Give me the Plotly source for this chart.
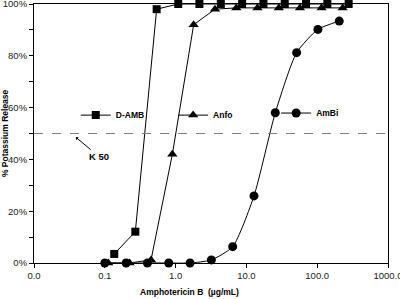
import plotly.graph_objects as go

# Data
damb_x = [0.136, 0.27, 0.54, 1.09, 2.17, 4.35, 8.7, 17.4, 34.8, 69.6, 139, 278]
damb_y = [3.5, 12.1, 98.0, 100, 100, 100, 100, 100, 100, 100, 100, 100]

anfo_x = [0.112, 0.224, 0.45, 0.9, 1.8, 3.6, 7.2, 14.3, 28.7, 57, 115, 229]
anfo_y = [0, 0, 1.2, 42, 92, 98, 98.5, 98.5, 98.5, 98.5, 98.5, 98.5]

ambi_x = [0.1, 0.2, 0.4, 0.8, 1.6, 3.2, 6.4, 12.8, 25.6, 51.2, 102.4, 204.8]
ambi_y = [0, 0, 0, 0, 0, 1.2, 6.3, 25.9, 58, 81.2, 90.2, 93.4]

x_tickvals = [0.01, 0.1, 1, 10, 100, 1000]
x_ticktext = ["0.0", "0.1", "1.0", "10.0", "100.0", "1000.0"]
y_tickvals = [0, 20, 40, 60, 80, 100]
y_ticktext = ["0%", "20%", "40%", "60%", "80%", "100%"]

FONT = "Liberation Sans Narrow, Arial Narrow, Liberation Sans, Arial, sans-serif"
BOLD = dict(family=FONT, size=8.5, color="black", weight="bold")

fig = go.Figure()
fig.add_trace(go.Scatter(x=damb_x, y=damb_y, name="D-AMB", mode="lines+markers",
                         line=dict(color="black", width=1),
                         marker=dict(symbol="square", size=8, color="black"),
                         cliponaxis=False, legend="legend"))
fig.add_trace(go.Scatter(x=anfo_x, y=anfo_y, name="Anfo", mode="lines+markers",
                         line=dict(color="black", width=1),
                         marker=dict(symbol="triangle-up", size=9, color="black"),
                         cliponaxis=False, legend="legend2"))
fig.add_trace(go.Scatter(x=ambi_x, y=ambi_y, name="AmBi", mode="lines+markers",
                         line=dict(color="black", width=1, shape="spline", smoothing=0.6),
                         marker=dict(symbol="circle", size=9, color="black"),
                         cliponaxis=False, legend="legend3"))

leg_common = dict(bgcolor="rgba(0,0,0,0)", borderwidth=0, font=BOLD,
                  xanchor="left", yanchor="middle", itemwidth=30)
fig.update_layout(
    legend=dict(x=0.118, y=0.571, **leg_common),
    legend2=dict(x=0.393, y=0.571, **leg_common),
    legend3=dict(x=0.684, y=0.579, **leg_common),
)

fig.add_shape(type="line", xref="paper", yref="y", x0=0, x1=1, y0=50, y1=50,
              line=dict(color="#808080", width=1, dash="dash"))

# K50 label with arrow pointing at the dashed line
fig.add_annotation(x=0.116, y=0.488, xref="paper", yref="paper", text="K 50",
                   showarrow=True, ax=24, ay=20, axref="pixel", ayref="pixel",
                   font=dict(family=FONT, size=9.5, color="black", weight="bold"),
                   arrowhead=1, arrowsize=0.7, arrowwidth=1,
                   arrowcolor="black", standoff=1)

# Axis titles
fig.add_annotation(x=0.44, y=-0.112, xref="paper", yref="paper",
                   text="Amphotericin B  (µg/mL)", showarrow=False,
                   font=BOLD, xanchor="center", yanchor="middle")
fig.add_annotation(x=-0.083, y=0.5, xref="paper", yref="paper",
                   text="% Potassium Release", showarrow=False, textangle=-90,
                   font=BOLD, xanchor="center", yanchor="middle")

TICKFONT = dict(family=FONT, size=9.5, color="#222")
fig.update_xaxes(type="log", range=[-2, 3], tickvals=x_tickvals, ticktext=x_ticktext,
                 ticks="outside", ticklen=4, tickcolor="black",
                 showline=True, linecolor="black", linewidth=1, mirror=True,
                 showgrid=False, zeroline=False, automargin=False,
                 ticklabeloverflow="allow", tickfont=TICKFONT)
fig.update_yaxes(range=[0, 100], tickvals=y_tickvals, ticktext=y_ticktext,
                 ticks="outside", ticklen=4, tickcolor="black",
                 minor=dict(dtick=10, tick0=0, ticks="outside", ticklen=4, tickcolor="black"),
                 showline=True, linecolor="black", linewidth=1, mirror=True,
                 showgrid=False, zeroline=False, automargin=False,
                 ticklabeloverflow="allow", tickfont=TICKFONT)

fig.update_layout(width=400, height=299, margin=dict(l=34, r=12, t=4, b=36, autoexpand=False),
                  plot_bgcolor="white", paper_bgcolor="white", showlegend=True)

fig.write_html("out.html", config={"displayModeBar": False},
               post_script="document.body.style.margin='0';")
